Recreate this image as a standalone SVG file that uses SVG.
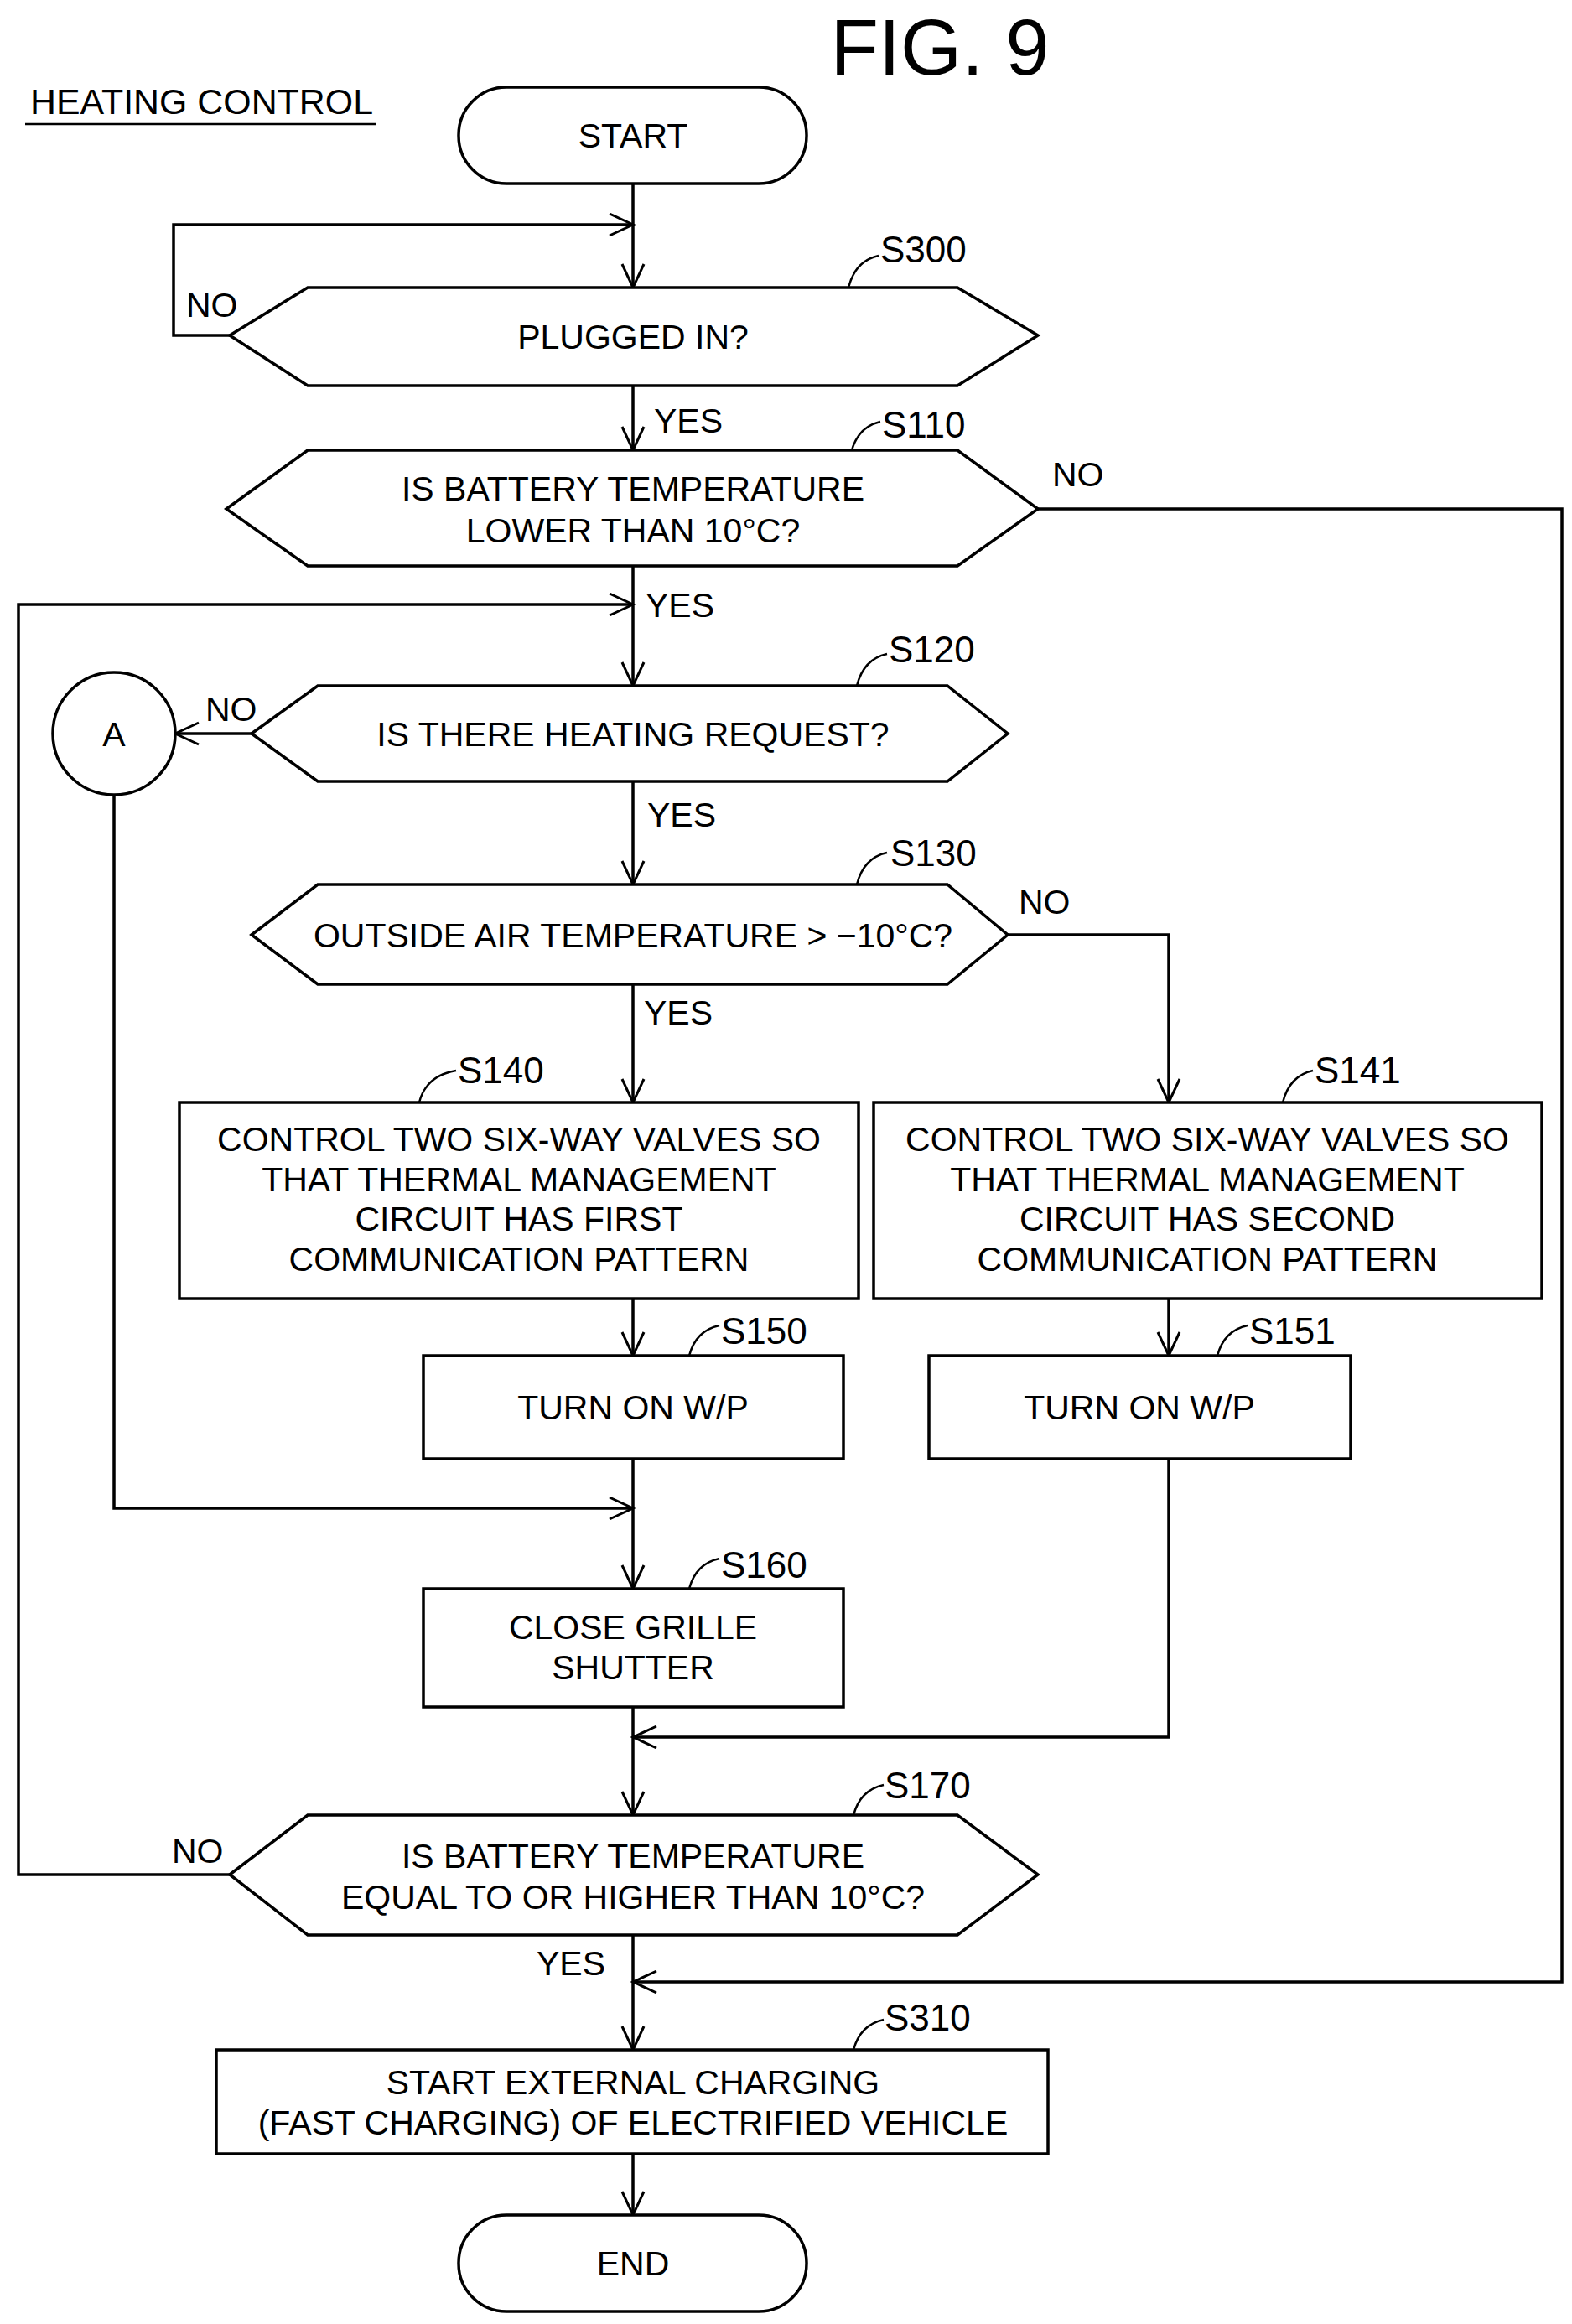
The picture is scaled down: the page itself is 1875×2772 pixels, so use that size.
<svg xmlns="http://www.w3.org/2000/svg" width="1875" height="2772" viewBox="0 0 1875 2772">
<defs>
<marker id="ah" markerUnits="userSpaceOnUse" markerWidth="40" markerHeight="40" refX="30" refY="15" orient="auto">
<path d="M2,2 L30,15 L2,28" fill="none" stroke="#000" stroke-width="3"/>
</marker>
<style>
.s{fill:#fff;stroke:#000;stroke-width:3.5}
.c{fill:none;stroke:#000;stroke-width:3.5}
.a{fill:none;stroke:#000;stroke-width:3.5;marker-end:url(#ah)}
.l{fill:none;stroke:#000;stroke-width:2.5}
text{font-family:"Liberation Sans",Arial,sans-serif;font-size:41px;fill:#000}
.m{text-anchor:middle}
.lb{font-size:44px}
</style>
</defs>
<rect width="1875" height="2772" fill="#fff"/>
<text x="1121" y="89" class="m" style="font-size:94px">FIG. 9</text>
<text x="36" y="136" style="font-size:42px" textLength="409" lengthAdjust="spacingAndGlyphs">HEATING CONTROL</text>
<line x1="30" y1="148" x2="448" y2="148" class="l"/>

<g id="connectors">
<path d="M755,219 V343" class="a"/>
<path d="M274,400 H207 V268 H755" class="a"/>
<path d="M755,460 V537" class="a"/>
<path d="M1238,607 H1863 V2364 H755" class="a"/>
<path d="M755,675 V818" class="a"/>
<path d="M274,2236 H22 V721 H755" class="a"/>
<path d="M300,875 H209" class="a"/>
<path d="M136,948 V1799 H755" class="a"/>
<path d="M755,932 V1055" class="a"/>
<path d="M1202,1115 H1394 V1315" class="a"/>
<path d="M755,1174 V1315" class="a"/>
<path d="M755,1549 V1617" class="a"/>
<path d="M1394,1549 V1617" class="a"/>
<path d="M755,1740 V1895" class="a"/>
<path d="M1394,1740 V2072 H755" class="a"/>
<path d="M755,2036 V2165" class="a"/>
<path d="M755,2308 V2445" class="a"/>
<path d="M755,2569 V2642" class="a"/>
<text x="222" y="378">NO</text>
<text x="780" y="516">YES</text>
<text x="1255" y="580">NO</text>
<text x="770" y="736">YES</text>
<text x="245" y="860">NO</text>
<text x="772" y="986">YES</text>
<text x="1215" y="1090">NO</text>
<text x="768" y="1222">YES</text>
<text x="205" y="2222">NO</text>
<text x="640" y="2356">YES</text>
</g>

<g id="start">
<rect x="547" y="104" width="415" height="115" rx="57" class="s"/>
<text x="755" y="176" class="m">START</text>
</g>

<g id="S300">
<polygon points="274,400 367,343 1142,343 1238,400 1142,460 367,460" class="s"/>
<text x="755" y="416" class="m">PLUGGED IN?</text>
<path d="M1012,343 q8,-32 36,-38" class="l"/>
<text x="1050" y="313" class="lb">S300</text>
</g>

<g id="S110">
<polygon points="270,607 367,537 1142,537 1238,607 1142,675 367,675" class="s"/>
<text x="755" y="597" class="m">IS BATTERY TEMPERATURE</text>
<text x="755" y="647" class="m">LOWER THAN 10°C?</text>
<path d="M1016,537 q8,-28 34,-34" class="l"/>
<text x="1052" y="522" class="lb">S110</text>
</g>

<g id="S120">
<polygon points="300,875 379,818 1130,818 1202,875 1130,932 379,932" class="s"/>
<text x="755" y="890" class="m">IS THERE HEATING REQUEST?</text>
<path d="M1022,818 q8,-32 36,-38" class="l"/>
<text x="1060" y="790" class="lb">S120</text>
</g>

<g id="A">
<circle cx="136" cy="875" r="73" class="s"/>
<text x="136" y="890" class="m">A</text>
</g>

<g id="S130">
<polygon points="300,1115 379,1055 1130,1055 1202,1115 1130,1174 379,1174" class="s"/>
<text x="755" y="1130" class="m">OUTSIDE AIR TEMPERATURE &gt; −10°C?</text>
<path d="M1022,1055 q8,-32 36,-38" class="l"/>
<text x="1062" y="1033" class="lb">S130</text>
</g>

<g id="S140">
<rect x="214" y="1315" width="810" height="234" class="s"/>
<text x="619" y="1373" class="m">CONTROL TWO SIX-WAY VALVES SO</text>
<text x="619" y="1421" class="m">THAT THERMAL MANAGEMENT</text>
<text x="619" y="1468" class="m">CIRCUIT HAS FIRST</text>
<text x="619" y="1516" class="m">COMMUNICATION PATTERN</text>
<path d="M500,1315 q8,-32 44,-38" class="l"/>
<text x="546" y="1292" class="lb">S140</text>
</g>

<g id="S141">
<rect x="1042" y="1315" width="797" height="234" class="s"/>
<text x="1440" y="1373" class="m">CONTROL TWO SIX-WAY VALVES SO</text>
<text x="1440" y="1421" class="m">THAT THERMAL MANAGEMENT</text>
<text x="1440" y="1468" class="m">CIRCUIT HAS SECOND</text>
<text x="1440" y="1516" class="m">COMMUNICATION PATTERN</text>
<path d="M1530,1315 q8,-32 36,-38" class="l"/>
<text x="1568" y="1292" class="lb">S141</text>
</g>

<g id="S150">
<rect x="505" y="1617" width="501" height="123" class="s"/>
<text x="755" y="1693" class="m">TURN ON W/P</text>
<path d="M822,1617 q8,-30 36,-36" class="l"/>
<text x="860" y="1603" class="lb">S150</text>
</g>

<g id="S151">
<rect x="1108" y="1617" width="503" height="123" class="s"/>
<text x="1359" y="1693" class="m">TURN ON W/P</text>
<path d="M1452,1617 q8,-30 36,-36" class="l"/>
<text x="1490" y="1603" class="lb">S151</text>
</g>

<g id="S160">
<rect x="505" y="1895" width="501" height="141" class="s"/>
<text x="755" y="1955" class="m">CLOSE GRILLE</text>
<text x="755" y="2003" class="m">SHUTTER</text>
<path d="M822,1895 q8,-30 36,-36" class="l"/>
<text x="860" y="1882" class="lb">S160</text>
</g>

<g id="S170">
<polygon points="274,2236 367,2165 1142,2165 1238,2236 1142,2308 367,2308" class="s"/>
<text x="755" y="2228" class="m">IS BATTERY TEMPERATURE</text>
<text x="755" y="2277" class="m">EQUAL TO OR HIGHER THAN 10°C?</text>
<path d="M1018,2165 q8,-30 36,-36" class="l"/>
<text x="1055" y="2145" class="lb">S170</text>
</g>

<g id="S310">
<rect x="258" y="2445" width="992" height="124" class="s"/>
<text x="755" y="2498" class="m">START EXTERNAL CHARGING</text>
<text x="755" y="2546" class="m">(FAST CHARGING) OF ELECTRIFIED VEHICLE</text>
<path d="M1018,2445 q8,-30 36,-36" class="l"/>
<text x="1055" y="2422" class="lb">S310</text>
</g>

<g id="end">
<rect x="547" y="2642" width="415" height="115" rx="57" class="s"/>
<text x="755" y="2714" class="m">END</text>
</g>
</svg>
